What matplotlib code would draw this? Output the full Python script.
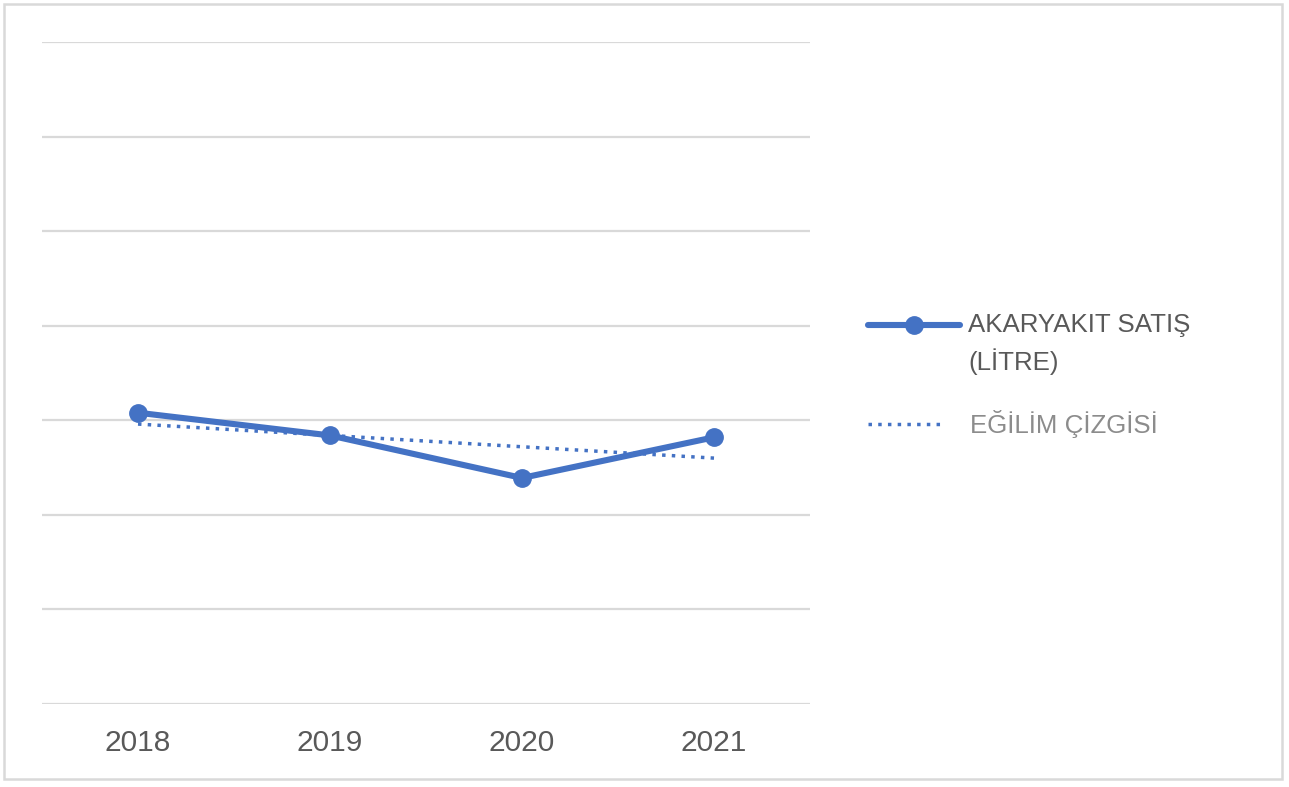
import matplotlib.pyplot as plt
from matplotlib.lines import Line2D
from matplotlib.patches import Rectangle

# veriler (grafikten okunan yaklaşık değerler, göreli ölçek)
yillar = ["2018", "2019", "2020", "2021"]
satis = [3.08, 2.84, 2.39, 2.82]
egilim_bas_son = [2.96, 2.60]

mavi = "#4472C4"
gri_yazi = "#595959"
izgara = "#D9D9D9"

plt.rcParams["font.family"] = ["Liberation Sans", "DejaVu Sans"]

W, H = 1289, 787
fig = plt.figure(figsize=(W / 100, H / 100), dpi=100)
ax = fig.add_axes([42 / W, 1 - 704 / H, (810 - 42) / W, (704 - 42) / H])

x = [i + 0.5 for i in range(len(yillar))]
ax.plot(x, satis, color=mavi, linewidth=4.4, marker="o", markersize=12.5,
        solid_capstyle="round", solid_joinstyle="round", zorder=3)
ax.plot([x[0], x[-1]], egilim_bas_son, color=mavi, linewidth=2.5,
        linestyle=(0, (1, 1.8)), zorder=2)

ax.set_xlim(0, 4)
ax.set_ylim(0, 7)
ax.set_yticks(range(8))
ax.set_yticklabels([])
ax.tick_params(axis="y", length=0)
ax.set_xticks(x)
ax.set_xticklabels(yillar, fontsize=21.5, color=gri_yazi)
ax.tick_params(axis="x", length=0, pad=18)
ax.grid(axis="y", color=izgara, linewidth=1.6)
ax.set_axisbelow(True)
for s in ax.spines.values():
    s.set_visible(False)

# açıklama (legend) elle çizildi
def px(xp, yp):
    return xp / W, 1 - yp / H

x0, y0 = px(868, 325)
x1, _ = px(960, 325)
fig.add_artist(Line2D([x0, x1], [y0, y0], color=mavi, linewidth=4.4,
                      solid_capstyle="round"))
fig.add_artist(Line2D([(x0 + x1) / 2], [y0], color=mavi, marker="o",
                      markersize=12.5))
tx, ty = px(968, 325)
fig.text(tx, ty, "AKARYAKIT SATIŞ", fontsize=18.6, color=gri_yazi, va="center")
tx, ty = px(968, 362)
fig.text(tx, ty, "(LİTRE)", fontsize=18.6, color=gri_yazi, va="center")

x0, y0 = px(868, 424)
x1, _ = px(942, 424)
fig.add_artist(Line2D([x0, x1], [y0, y0], color=mavi, linewidth=2.5,
                      linestyle=(0, (1, 1.8))))
tx, ty = px(970, 424)
fig.text(tx, ty, "EĞİLİM ÇİZGİSİ", fontsize=18.6, color="#8C8C8C", va="center")

# dış çerçeve
fig.add_artist(Rectangle((4 / W, 1 - 779 / H), (1282 - 4) / W, (779 - 4) / H,
                         transform=fig.transFigure, fill=False,
                         edgecolor=izgara, linewidth=1.8))

fig.savefig("out.png", dpi=100, facecolor="white")
